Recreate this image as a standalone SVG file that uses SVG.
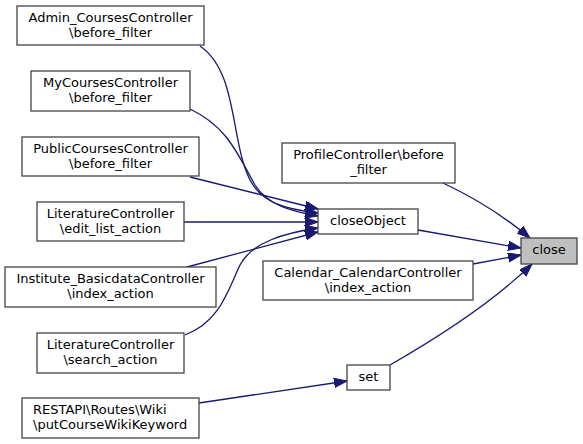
<svg xmlns="http://www.w3.org/2000/svg" width="583" height="444" viewBox="0 0 583 444">
<style>
.node rect{fill:#ffffff;stroke:#444444;stroke-width:1.3}
.node.hl rect{fill:#bfbfbf}
.node text{font-family:"DejaVu Sans",sans-serif;font-size:13px;fill:#000000;text-anchor:middle}
.node text.l{text-anchor:start}
.edge{fill:none;stroke:#191970;stroke-width:1.3;marker-end:url(#ah)}
</style>
<defs>
<marker id="ah" markerUnits="userSpaceOnUse" markerWidth="14" markerHeight="10" refX="13" refY="4.67" orient="auto">
<path d="M0,0 L13,4.67 L0,9.33 z" fill="#191970" stroke="#191970" stroke-width="1"/>
</marker>
</defs>
<rect width="583" height="444" fill="#ffffff"/>
<g id="connectors">
<path class="edge" d="M200,46 C238,72 230,140 250,180 C262,203 285,209 318,213"/>
<path class="edge" d="M190,109 C228,127 238,155 255,185 C268,205 290,211 318,216"/>
<path class="edge" d="M190,177 L318,209"/>
<path class="edge" d="M184,222 L318,222"/>
<path class="edge" d="M187,267 L318,232"/>
<path class="edge" d="M185,335 C220,322 228,290 240,265 C252,242 285,233 318,228"/>
<path class="edge" d="M418,230 L521,248"/>
<path class="edge" d="M443,183 C475,198 505,217 530,238"/>
<path class="edge" d="M473,264 L521,255"/>
<path class="edge" d="M390,365 C430,342 490,305 532,264"/>
<path class="edge" d="M199,403 L347,381"/>
</g>
<g id="close" class="node hl"><rect x="521" y="238" width="56" height="26"/><text x="549" y="254">close</text></g>
<g id="closeObject" class="node"><rect x="318" y="209" width="100" height="25"/><text x="368" y="225">closeObject</text></g>
<g id="ProfileController_before_filter" class="node"><rect x="282" y="143" width="173" height="40"/><text x="368.5" y="159">ProfileController\before</text><text x="368.5" y="173.5">_filter</text></g>
<g id="Calendar_CalendarController_index_action" class="node"><rect x="263" y="261" width="210" height="39"/><text x="368" y="277">Calendar_CalendarController</text><text x="368" y="291.5">\index_action</text></g>
<g id="set" class="node"><rect x="347" y="365" width="43" height="25"/><text x="368.5" y="381">set</text></g>
<g id="Admin_CoursesController_before_filter" class="node"><rect x="17" y="6" width="187" height="39"/><text x="110.5" y="22">Admin_CoursesController</text><text x="110.5" y="36.5">\before_filter</text></g>
<g id="MyCoursesController_before_filter" class="node"><rect x="31" y="71" width="159" height="40"/><text x="110.5" y="87">MyCoursesController</text><text x="110.5" y="101.5">\before_filter</text></g>
<g id="PublicCoursesController_before_filter" class="node"><rect x="22" y="137" width="177" height="39"/><text x="110.5" y="153">PublicCoursesController</text><text x="110.5" y="167.5">\before_filter</text></g>
<g id="LiteratureController_edit_list_action" class="node"><rect x="37" y="202" width="147" height="39"/><text x="110.5" y="218">LiteratureController</text><text x="110.5" y="232.5">\edit_list_action</text></g>
<g id="Institute_BasicdataController_index_action" class="node"><rect x="5" y="267" width="211" height="40"/><text x="110.5" y="283">Institute_BasicdataController</text><text x="110.5" y="297.5">\index_action</text></g>
<g id="LiteratureController_search_action" class="node"><rect x="37" y="333" width="147" height="40"/><text x="110.5" y="349">LiteratureController</text><text x="110.5" y="363.5">\search_action</text></g>
<g id="RESTAPI_Routes_Wiki_putCourseWikiKeyword" class="node"><rect x="22" y="398" width="177" height="40"/><text class="l" x="33" y="414">RESTAPI\Routes\Wiki</text><text class="l" x="33" y="428.5">\putCourseWikiKeyword</text></g>
</svg>
